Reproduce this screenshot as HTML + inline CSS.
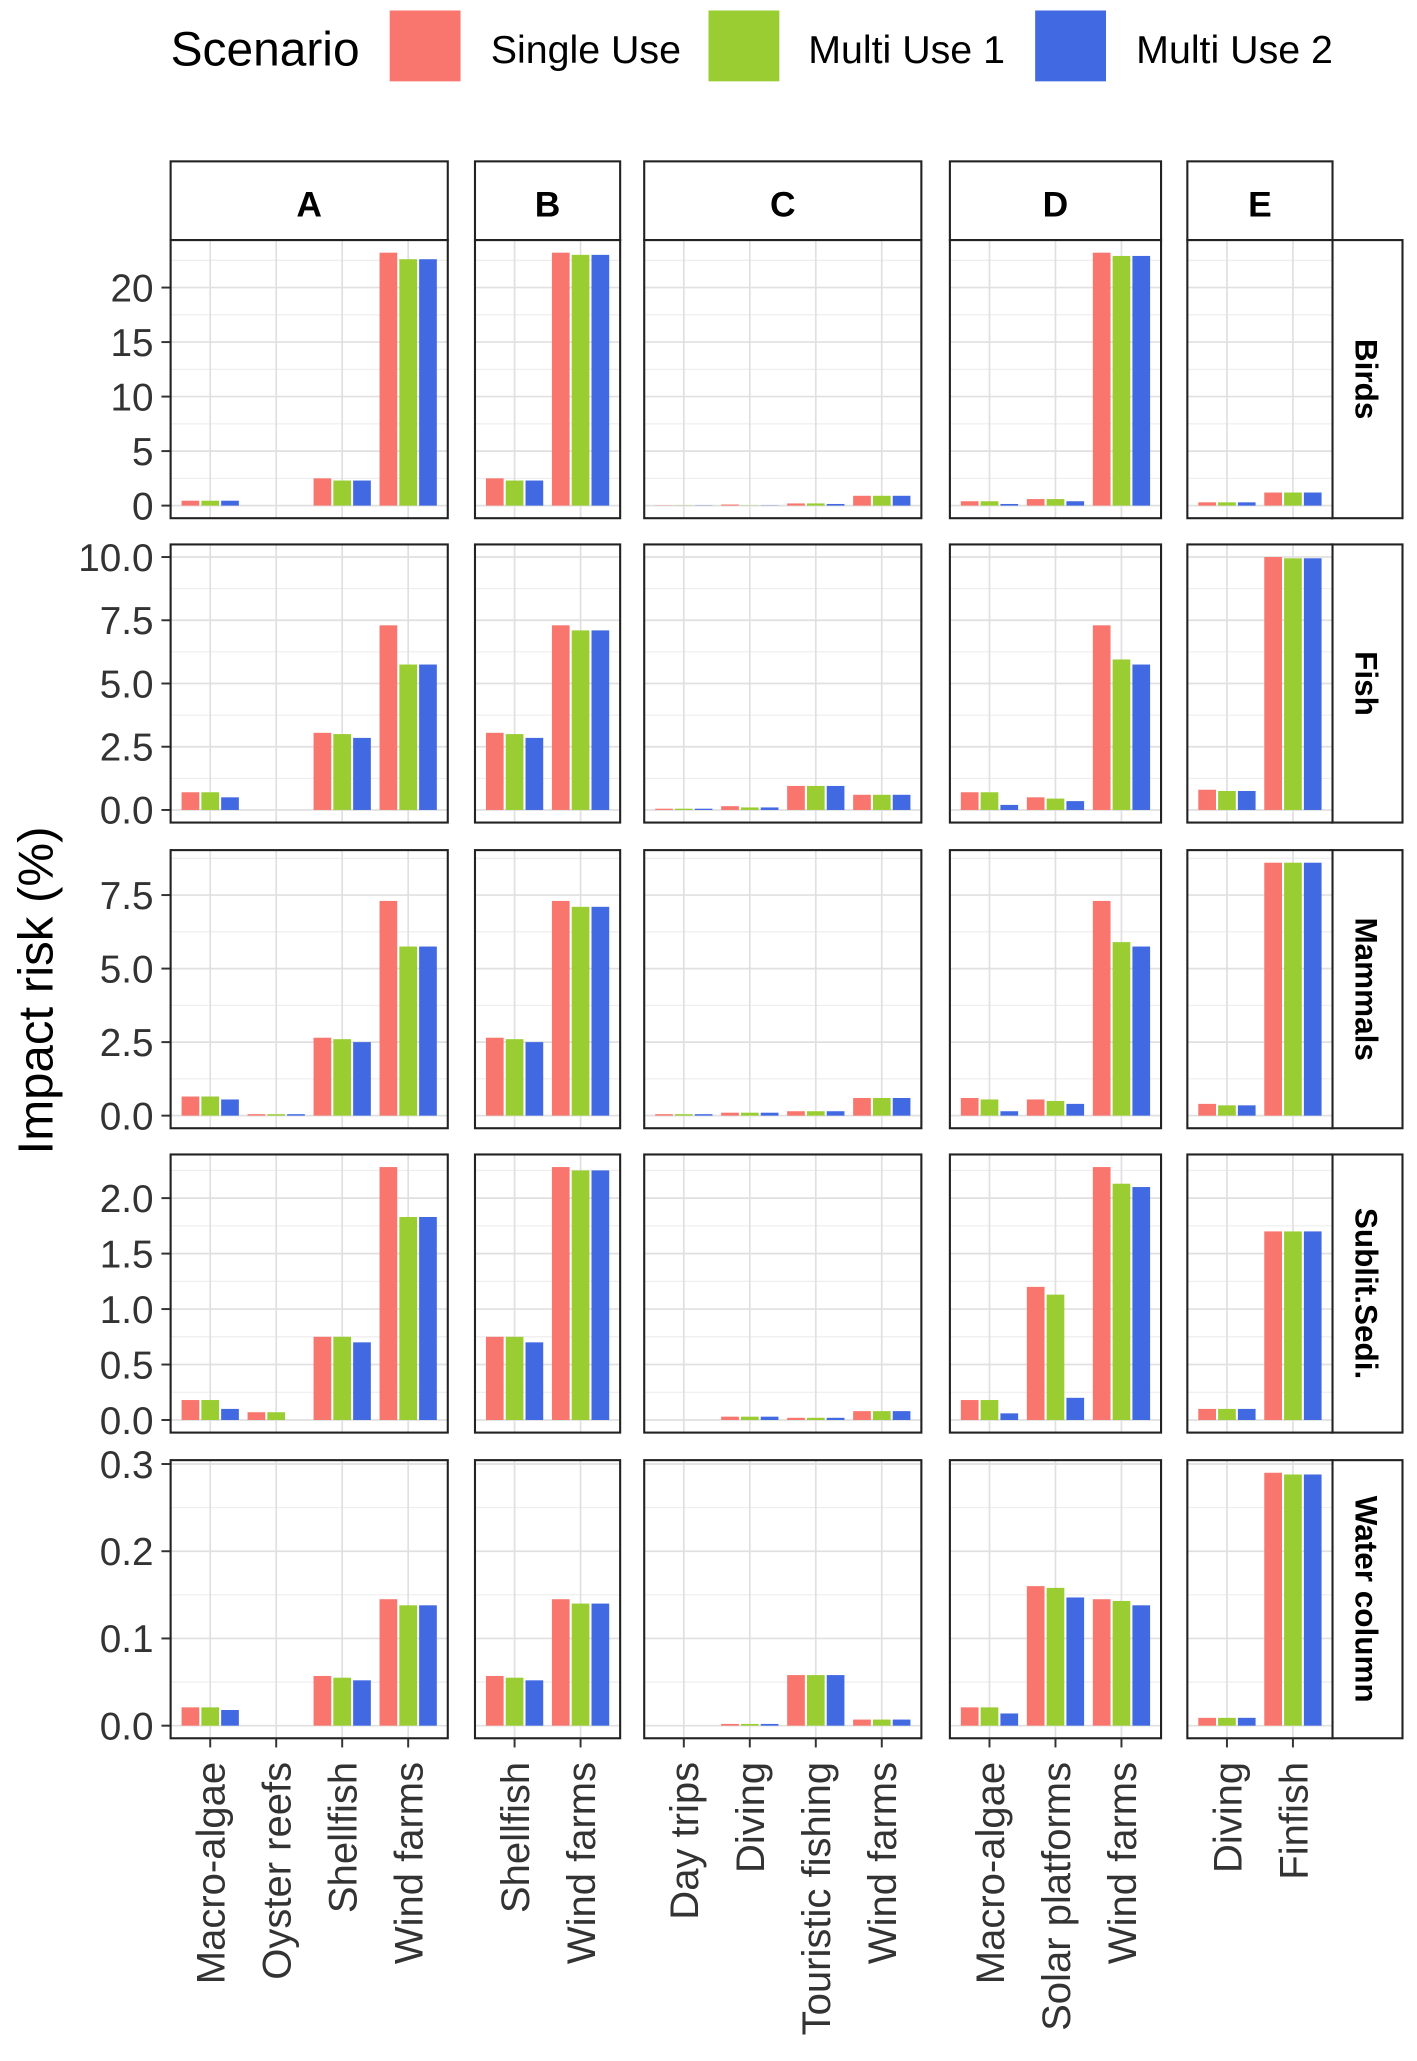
<!DOCTYPE html>
<html><head><meta charset="utf-8">
<style>html,body{margin:0;padding:0;background:#fff}svg{display:block}text{font-family:"Liberation Sans",Arial,sans-serif}</style>
</head><body>
<svg id="chart" width="1417" height="2061" viewBox="0 0 1080 1571" xmlns="http://www.w3.org/2000/svg">
<g>
<text x="130" y="50" font-size="36.5" fill="#000">Scenario</text>
<rect x="297" y="8" width="54" height="54" fill="#F8766D"/>
<text x="374" y="48" font-size="30">Single Use</text>
<rect x="540" y="8" width="54" height="54" fill="#9ACD32"/>
<text x="616" y="48" font-size="30">Multi Use 1</text>
<rect x="789" y="8" width="54" height="54" fill="#4169E1"/>
<text x="866" y="48" font-size="30">Multi Use 2</text>
</g>
<text transform="translate(40,755) rotate(-90)" text-anchor="middle" font-size="37.5">Impact risk (%)</text>
<g id="plots"></g>
</svg>
<script>
const colNames = ["A","B","C","D","E"];
const colCats = [
  ["Macro-algae","Oyster reefs","Shellfish","Wind farms"],
  ["Shellfish","Wind farms"],
  ["Day trips","Diving","Touristic fishing","Wind farms"],
  ["Macro-algae","Solar platforms","Wind farms"],
  ["Diving","Finfish"]
];
const rowNames = ["Birds","Fish","Mammals","Sublit.Sedi.","Water column"];
const rowTicks = [
  ["0","5","10","15","20"],
  ["0.0","2.5","5.0","7.5","10.0"],
  ["0.0","2.5","5.0","7.5"],
  ["0.0","0.5","1.0","1.5","2.0"],
  ["0.0","0.1","0.2","0.3"]
];
const rowMax = [23.2, 10.0, 8.6, 2.28, 0.29];
const seriesNames = ["Single Use","Multi Use 1","Multi Use 2"];
// values[row][col][cat] = [single, multi1, multi2]
const birds = [
  [[0.45,0.45,0.45],[0,0,0],[2.5,2.3,2.3],[23.2,22.6,22.6]],
  [[2.5,2.3,2.3],[23.2,23.0,23.0]],
  [[0.02,0.02,0.02],[0.1,0.02,0.02],[0.2,0.2,0.15],[0.9,0.9,0.9]],
  [[0.4,0.4,0.15],[0.6,0.6,0.4],[23.2,22.9,22.9]],
  [[0.3,0.3,0.3],[1.2,1.2,1.2]]
];
const fish = [
  [[0.7,0.7,0.5],[0,0,0],[3.05,3.0,2.85],[7.3,5.75,5.75]],
  [[3.05,3.0,2.85],[7.3,7.1,7.1]],
  [[0.05,0.05,0.05],[0.15,0.1,0.1],[0.95,0.95,0.95],[0.6,0.6,0.6]],
  [[0.7,0.7,0.2],[0.5,0.45,0.35],[7.3,5.95,5.75]],
  [[0.8,0.75,0.75],[10.0,9.95,9.95]]
];
const mammals = [
  [[0.65,0.65,0.55],[0.05,0.05,0.05],[2.65,2.6,2.5],[7.3,5.75,5.75]],
  [[2.65,2.6,2.5],[7.3,7.1,7.1]],
  [[0.05,0.05,0.05],[0.1,0.1,0.1],[0.15,0.15,0.15],[0.6,0.6,0.6]],
  [[0.6,0.55,0.15],[0.55,0.5,0.4],[7.3,5.9,5.75]],
  [[0.4,0.35,0.35],[8.6,8.6,8.6]]
];
const sublit = [
  [[0.18,0.18,0.1],[0.07,0.07,0],[0.75,0.75,0.7],[2.28,1.83,1.83]],
  [[0.75,0.75,0.7],[2.28,2.25,2.25]],
  [[0,0,0],[0.03,0.03,0.03],[0.02,0.02,0.02],[0.08,0.08,0.08]],
  [[0.18,0.18,0.06],[1.2,1.13,0.2],[2.28,2.13,2.1]],
  [[0.1,0.1,0.1],[1.7,1.7,1.7]]
];
const water = [
  [[0.021,0.021,0.018],[0,0,0],[0.057,0.055,0.052],[0.145,0.138,0.138]],
  [[0.057,0.055,0.052],[0.145,0.14,0.14]],
  [[0,0,0],[0.002,0.002,0.002],[0.058,0.058,0.058],[0.007,0.007,0.007]],
  [[0.021,0.021,0.014],[0.16,0.158,0.147],[0.145,0.143,0.138]],
  [[0.009,0.009,0.009],[0.29,0.288,0.288]]
];
const values = [birds, fish, mammals, sublit, water];
const colors = ["#F8766D","#9ACD32","#4169E1"];

const NS = "http://www.w3.org/2000/svg";
const root = document.getElementById("plots");
function mk(tag, attrs, parent) {
  const e = document.createElementNS(NS, tag);
  for (const k in attrs) e.setAttribute(k, attrs[k]);
  (parent || root).appendChild(e);
  return e;
}
const colX = [130, 362, 491, 724, 905];
const unitW = 50.3;
const rowY = [183, 415, 648, 880, 1113];
const panelH = 212;
const stripTop = 123;
const slug = s => s.toLowerCase().replace(/[^a-z0-9]+/g, "-").replace(/-$/,"");

colNames.forEach((cn, ci) => {
  const w = (colCats[ci].length + 0.2) * unitW;
  const g = mk("g", {});
  
  
  mk("rect", {x: colX[ci], y: stripTop, width: w, height: rowY[0] - stripTop, fill: "#fff", stroke: "#222", "stroke-width": 1.6}, g);
  const t = mk("text", {x: colX[ci] + w / 2, y: 165, "text-anchor": "middle", "font-size": 27, "font-weight": "bold"}, g);
  t.textContent = cn;
});

rowNames.forEach((rn, ri) => {
  const y0 = rowY[ri], y1 = y0 + panelH;
  const plotBot = y1 - 9.6, plotTop = y0 + 9.6;
  const ys = v => plotBot - v / rowMax[ri] * (plotBot - plotTop);
  const sg = mk("g", {});
  
  
  mk("rect", {x: 1015, y: y0, width: 54, height: panelH, fill: "#fff", stroke: "#222", "stroke-width": 1.6}, sg);
  const st = mk("text", {transform: `translate(1033,${y0 + panelH / 2}) rotate(90)`, "text-anchor": "middle", "font-size": 24, "font-weight": "bold"}, sg);
  st.textContent = rn;
  const tg = mk("g", {});
  
  
  rowTicks[ri].forEach(lbl => {
    const y = ys(parseFloat(lbl));
    mk("line", {x1: 123, x2: 130, y1: y, y2: y, stroke: "#333", "stroke-width": 1.5}, tg);
    const t = mk("text", {x: 117, y: y + 10.5, "text-anchor": "end", "font-size": 29.5, fill: "#333"}, tg);
    t.textContent = lbl;
  });
  colNames.forEach((cn, ci) => {
    const cats = colCats[ci];
    const x0 = colX[ci], w = (cats.length + 0.2) * unitW;
    const xs = i => x0 + (i + 0.6) * unitW;
    const pg = mk("g", {});
    
    
    mk("rect", {x: x0, y: y0, width: w, height: panelH, fill: "#fff"}, pg);
    const tk = rowTicks[ri].map(parseFloat);
    const step = tk[1] - tk[0];
    for (let v = step / 2; ys(v) > y0; v += step) {
      mk("line", {x1: x0, x2: x0 + w, y1: ys(v), y2: ys(v), stroke: "#ebebeb", "stroke-width": 0.8}, pg);
    }
    tk.forEach(v => mk("line", {x1: x0, x2: x0 + w, y1: ys(v), y2: ys(v), stroke: "#e0e0e0", "stroke-width": 1.3}, pg));
    cats.forEach((c, i) => mk("line", {x1: xs(i), x2: xs(i), y1: y0, y2: y1, stroke: "#e0e0e0", "stroke-width": 1.3}, pg));
    cats.forEach((c, i) => {
      values[ri][ci][i].forEach((v, si) => {
        const bx = xs(i) + (si - 1.5) * 0.3 * unitW;
        const b = mk("rect", {x: bx + 0.8, y: ys(v), width: 0.3 * unitW - 1.6, height: Math.max(0, ys(0) - ys(v)), fill: colors[si]}, pg);
        
        
      });
    });
    mk("rect", {x: x0, y: y0, width: w, height: panelH, fill: "none", stroke: "#222", "stroke-width": 1.6}, pg);
    if (ri === rowNames.length - 1) {
      const xg = mk("g", {});
      
      
      cats.forEach((c, i) => {
        mk("line", {x1: xs(i), x2: xs(i), y1: y1, y2: y1 + 7, stroke: "#333", "stroke-width": 1.5}, xg);
        const t = mk("text", {transform: `translate(${xs(i) + 11},${y1 + 18}) rotate(-90)`, "text-anchor": "end", "font-size": 30.5, fill: "#333"}, xg);
        t.textContent = c;
      });
    }
  });
});
</script>
</body></html>
